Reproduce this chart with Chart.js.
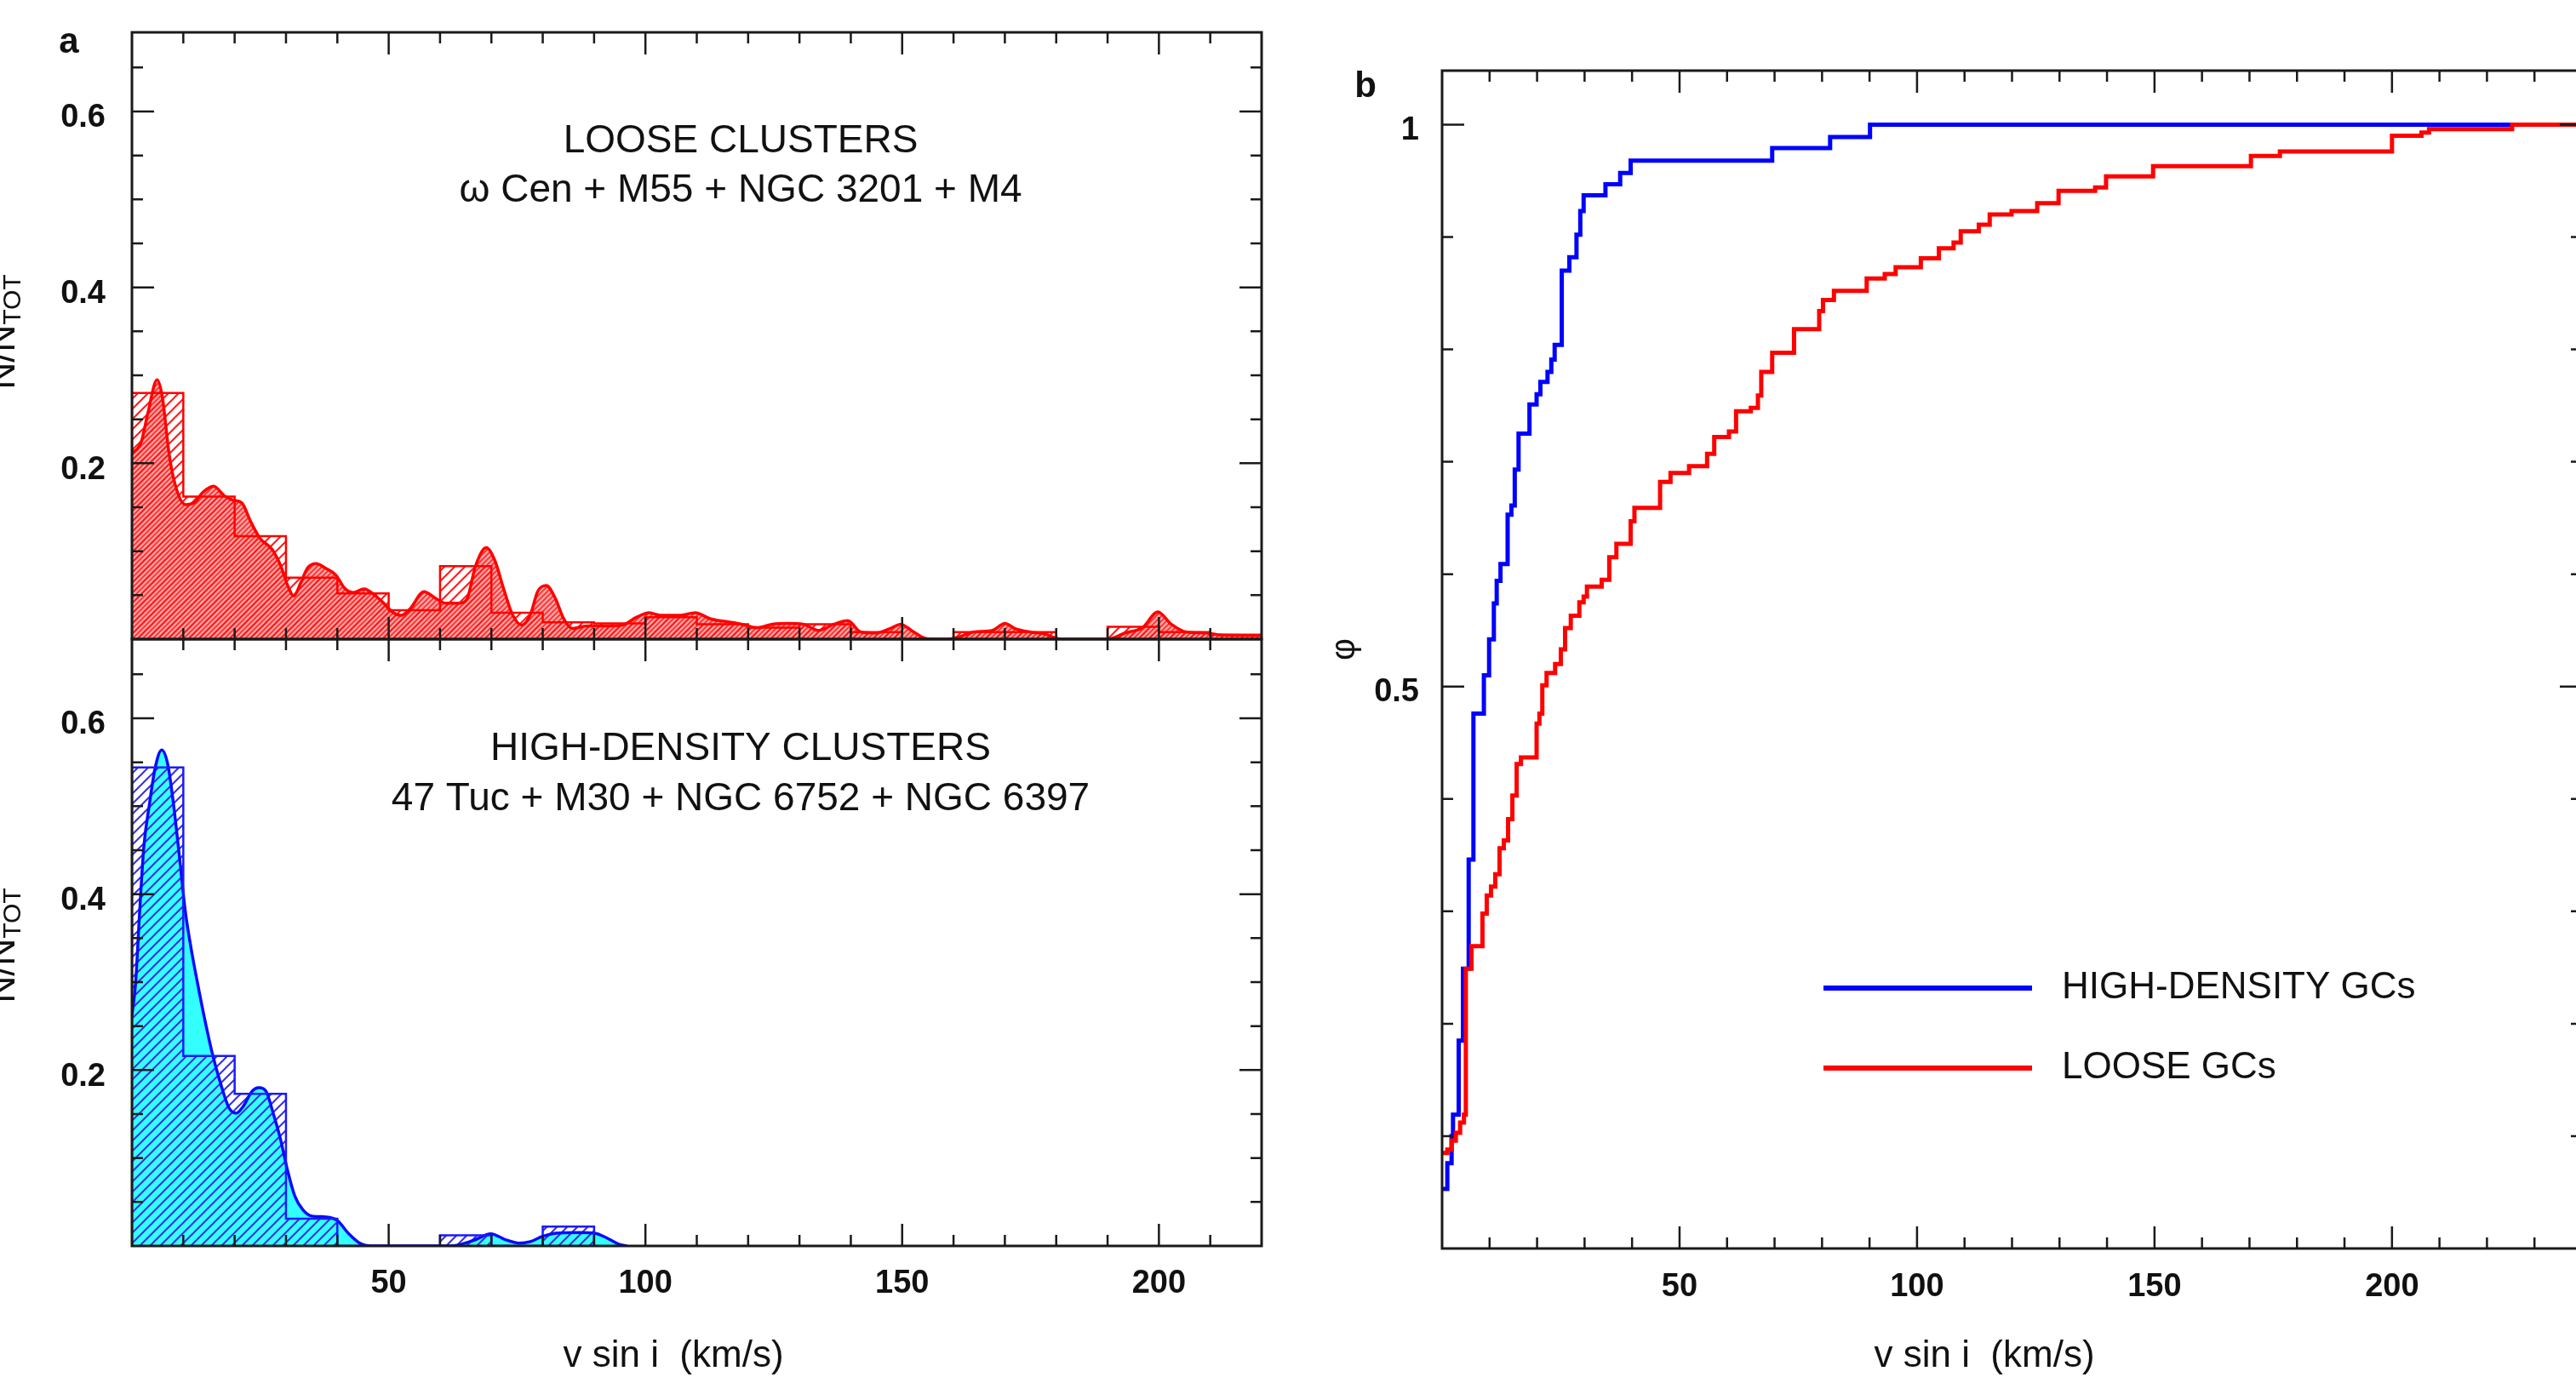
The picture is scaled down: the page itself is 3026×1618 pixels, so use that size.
<!DOCTYPE html>
<html lang="en">
<head>
<meta charset="UTF-8">
<title>v sin i distributions in loose and high-density clusters</title>
<script src="https://cdn.jsdelivr.net/npm/chart.js@4.4.2/dist/chart.umd.min.js"></script>
<style>
    html, body { margin: 0; padding: 0; background: #fff; }
    body { width: 3026px; height: 1618px; overflow: hidden; position: relative; }
    canvas { position: absolute; }
    #looseChart { left: 0; top: 0; }
    #denseChart { left: 0; top: 740px; }
    #cdfChart { left: 1540px; top: 0; }
</style>
</head>
<body>
<canvas id="looseChart" width="1500" height="760"></canvas>
<canvas id="denseChart" width="1500" height="878"></canvas>
<canvas id="cdfChart" width="1510" height="1618"></canvas>

<script>
// --- data ---
// panel a, histograms (bins of 10 km/s)
const looseBins = [0, 10, 20, 30, 40, 50, 60, 70, 80, 90, 100, 110, 120, 130, 140, 150, 160, 170, 180, 190, 200, 210, 220];
const looseHist = [0.280, 0.162, 0.117, 0.070, 0.052, 0.033, 0.083, 0.030, 0.019, 0.018, 0.025, 0.017, 0.013, 0.017, 0.008, 0, 0.008, 0.008, 0, 0.014, 0.008, 0.005];
const denseBins = [0, 10, 20, 30, 40, 50, 60, 70, 80, 90];
const denseHist = [0.544, 0.216, 0.173, 0.031, 0, 0, 0.012, 0, 0.022];

// panel a, smoothed distributions [v sin i, N/Ntot]
const looseKde = [
    [0, 0.211], [1.8, 0.224], [3.1, 0.257], [4.9, 0.295], [5.9, 0.276], [7.3, 0.208], [8.7, 0.170],
    [10.4, 0.153], [12.1, 0.155], [13.8, 0.167], [15.9, 0.174], [18, 0.163], [19.7, 0.158], [21.4, 0.155],
    [23.1, 0.134], [24.9, 0.115], [27.3, 0.102], [29, 0.083], [30.4, 0.060], [31.5, 0.049], [32.8, 0.063],
    [34.2, 0.081], [35.9, 0.086], [37.6, 0.081], [39.7, 0.073], [41.4, 0.058], [43.1, 0.053], [45.2, 0.057],
    [47.3, 0.050], [49, 0.041], [50.7, 0.031], [52.4, 0.027], [54.1, 0.034], [56.9, 0.054], [59, 0.047],
    [61, 0.041], [63.8, 0.041], [65.2, 0.045], [66.9, 0.083], [69, 0.104], [70.7, 0.089], [72.4, 0.057],
    [74.1, 0.028], [75.9, 0.016], [77.6, 0.028], [79, 0.054], [80.7, 0.061], [82.4, 0.047], [84.1, 0.023],
    [85.8, 0.012], [88.6, 0.015], [92, 0.015], [95.5, 0.016], [98.3, 0.025], [100.7, 0.030], [103.1, 0.027],
    [106.7, 0.027], [109.7, 0.030], [112.7, 0.023], [115.7, 0.020], [118.7, 0.017], [121.7, 0.013],
    [124.7, 0.017], [127.7, 0.018], [130.7, 0.017], [133.7, 0.010], [136.7, 0.017], [139.4, 0.021],
    [142, 0.008], [145, 0.007], [148, 0.013], [149.7, 0.017], [151.8, 0.010], [154.4, 0.001], [156, 0],
    [159, 0], [160.8, 0.002], [163.8, 0.008], [167.6, 0.010], [170, 0.018], [172, 0.012], [175, 0.008],
    [177.7, 0.006], [179.6, 0.002], [181, 0], [190, 0], [193.4, 0.007], [196.8, 0.013], [199.8, 0.031],
    [202.4, 0.017], [205.4, 0.008], [209.2, 0.007], [212.2, 0.0045], [220, 0.004]
];
const denseKde = [
    [0, 0.262], [0.7, 0.298], [1.5, 0.380], [2.3, 0.453], [3.4, 0.502], [4.5, 0.543], [5.8, 0.564],
    [7.0, 0.547], [8.1, 0.502], [9.2, 0.445], [10.4, 0.380], [11.5, 0.339], [12.8, 0.298], [14.2, 0.257],
    [15.6, 0.220], [17.3, 0.184], [18.9, 0.157], [20.3, 0.151], [21.7, 0.159], [23.4, 0.176], [24.7, 0.180],
    [26.1, 0.176], [27.5, 0.151], [28.9, 0.122], [30.3, 0.086], [31.7, 0.057], [33.3, 0.041], [35, 0.034],
    [37.8, 0.033], [40, 0.029], [42.2, 0.014], [44.4, 0.003], [46.6, 0], [62, 0], [66.6, 0.0065],
    [69.9, 0.0139], [72.6, 0.0074], [75.4, 0.0032], [77.6, 0.005], [79.9, 0.0107], [82.6, 0.0145],
    [87.1, 0.0152], [90.1, 0.0145], [92.6, 0.0087], [94.8, 0.002], [96.4, 0]
];

// panel b, cumulative distributions [v sin i, phi]
const denseCdf = [
    [0, 0.053], [1.1, 0.076], [2.0, 0.100], [2.3, 0.119], [3.5, 0.185], [4.4, 0.249], [5.6, 0.346],
    [6.6, 0.476], [8.8, 0.510], [9.9, 0.542], [10.9, 0.574], [11.5, 0.594], [12.3, 0.609], [13.8, 0.653],
    [14.6, 0.661], [15.3, 0.693], [16.1, 0.725], [18.4, 0.751], [19.9, 0.760], [20.7, 0.771], [22.2, 0.780],
    [23.0, 0.791], [23.7, 0.804], [25.2, 0.870], [26.8, 0.882], [28.3, 0.902], [29.1, 0.923], [29.8, 0.937],
    [34.4, 0.947], [37.5, 0.957], [39.7, 0.968], [69.5, 0.979], [81.7, 0.989], [90.1, 1.0], [240, 1.0]
];
const looseCdf = [
    [0, 0.085], [1.1, 0.088], [2.0, 0.096], [2.9, 0.103], [3.8, 0.112], [4.6, 0.119], [5.0, 0.249],
    [6.2, 0.269], [8.5, 0.298], [9.4, 0.314], [10.3, 0.322], [11.2, 0.333], [12.1, 0.356], [13.0, 0.363],
    [13.9, 0.382], [14.8, 0.403], [15.7, 0.431], [16.6, 0.437], [19.9, 0.467], [20.5, 0.476], [21.1, 0.501],
    [22.0, 0.512], [23.8, 0.520], [25.0, 0.533], [25.9, 0.552], [27.1, 0.563], [28.9, 0.575], [29.8, 0.580],
    [30.5, 0.589], [33.6, 0.595], [35.2, 0.615], [36.7, 0.627], [39.7, 0.647], [40.5, 0.659], [45.9, 0.682],
    [48.1, 0.690], [52, 0.696], [55.8, 0.707], [57.3, 0.722], [60.4, 0.727], [61.9, 0.745], [65, 0.748],
    [66.5, 0.759], [67.2, 0.780], [69.5, 0.797], [74.1, 0.818], [79.4, 0.834], [80.2, 0.844], [82.5, 0.852],
    [89.4, 0.863], [93.2, 0.867], [95.5, 0.873], [100.8, 0.881], [104.6, 0.890], [107.7, 0.895],
    [109.2, 0.905], [113, 0.911], [115.3, 0.920], [119.9, 0.923], [125.3, 0.930], [129.8, 0.941],
    [137.5, 0.944], [139.8, 0.954], [149.7, 0.963], [170.3, 0.972], [176.4, 0.976], [200, 0.990],
    [206.2, 0.993], [207.8, 0.996], [225.3, 1.0], [240, 1.0]
];

// ticks
const xLabelTicks = [50, 100, 150, 200];
const xMinorA = [10, 20, 30, 40, 50, 60, 70, 80, 90, 100, 110, 120, 130, 140, 150, 160, 170, 180, 190, 200, 210];
const xMinorB = [10, 20, 30, 40, 50, 60, 70, 80, 90, 100, 110, 120, 130, 140, 150, 160, 170, 180, 190, 200, 210, 220, 230];
const yLabelTicksA = [0.2, 0.4, 0.6];
const yMinorA = [0.05, 0.1, 0.15, 0.2, 0.25, 0.3, 0.35, 0.4, 0.45, 0.5, 0.55, 0.6, 0.65];
const yLabelTicksB = [0.5, 1];
const yMinorB = [0.1, 0.2, 0.3, 0.4, 0.5, 0.6, 0.7, 0.8, 0.9, 1];

const FONT = "'Liberation Sans', Arial, Helvetica, sans-serif";
Chart.defaults.font.family = FONT;
Chart.defaults.color = '#111';

// --- helpers ---
function toXY(pairs) {
    return pairs.map(p => ({ x: p[0], y: p[1] }));
}

// outline of a histogram: a point at the left edge of every bin, closed down to zero
function stepPoints(edges, vals) {
    const pts = [{ x: edges[0], y: 0 }];
    vals.forEach((v, i) => pts.push({ x: edges[i], y: v }));
    const end = edges[edges.length - 1];
    pts.push({ x: end, y: vals[vals.length - 1] });
    pts.push({ x: end, y: 0 });
    return pts;
}

function hatch(bg, color, gap, lw) {
    const c = document.createElement('canvas');
    c.width = gap; c.height = gap;
    const g = c.getContext('2d');
    if (bg) { g.fillStyle = bg; g.fillRect(0, 0, gap, gap); }
    g.strokeStyle = color;
    g.lineWidth = lw;
    g.beginPath();
    g.moveTo(-2, gap + 2); g.lineTo(gap + 2, -2);
    g.moveTo(-2, 2); g.lineTo(2, -2);
    g.moveTo(gap - 2, gap + 2); g.lineTo(gap + 2, gap - 2);
    g.stroke();
    return g.createPattern(c, 'repeat');
}

// box with inward ticks on every side
const frameTicks = {
    id: 'frameTicks',
    afterDatasetsDraw(chart, args, o) {
        const { ctx, chartArea: a } = chart;
        const x = chart.scales.x, y = chart.scales.y;
        ctx.save();
        ctx.strokeStyle = '#1a1a1a';
        ctx.lineWidth = 2.5;
        ctx.beginPath();
        o.xMinor.forEach(v => {
            const px = x.getPixelForValue(v);
            const len = o.xMajor.includes(v) ? 26 : 13;
            ctx.moveTo(px, a.top); ctx.lineTo(px, a.top + len);
            ctx.moveTo(px, a.bottom); ctx.lineTo(px, a.bottom - len);
        });
        o.yMinor.forEach(v => {
            const py = y.getPixelForValue(v);
            const len = o.yMajor.includes(v) ? 26 : 13;
            ctx.moveTo(a.left, py); ctx.lineTo(a.left + len, py);
            ctx.moveTo(a.right, py); ctx.lineTo(a.right - len, py);
        });
        ctx.stroke();
        ctx.lineWidth = 3;
        ctx.strokeRect(a.left, a.top, a.right - a.left, a.bottom - a.top);
        ctx.restore();
    }
};

// free text: panel letters, annotations, axis titles
const panelText = {
    id: 'panelText',
    afterDraw(chart, args, o) {
        const ctx = chart.ctx;
        (o.items || []).forEach(it => {
            ctx.save();
            ctx.translate(it.x, it.y);
            if (it.rotate) ctx.rotate(it.rotate);
            ctx.fillStyle = '#111';
            const f = `${it.bold ? 'bold ' : ''}${it.size}px ${FONT}`;
            if (it.sub) {
                ctx.font = f;
                const w1 = ctx.measureText(it.text).width;
                ctx.font = `${it.subSize}px ${FONT}`;
                const w2 = ctx.measureText(it.sub).width;
                const x0 = -(w1 + w2) / 2;
                ctx.textAlign = 'left';
                ctx.textBaseline = 'alphabetic';
                ctx.font = f;
                ctx.fillText(it.text, x0, 0);
                ctx.font = `${it.subSize}px ${FONT}`;
                ctx.fillText(it.sub, x0 + w1, it.subShift);
            } else {
                ctx.font = f;
                ctx.textAlign = it.align || 'center';
                ctx.textBaseline = 'middle';
                ctx.fillText(it.text, 0, 0);
            }
            ctx.restore();
        });
    }
};

// legend drawn inside panel b from the dataset labels/colours
const lineLegend = {
    id: 'lineLegend',
    afterDraw(chart, args, o) {
        const ctx = chart.ctx;
        chart.data.datasets.forEach((ds, i) => {
            const y = o.y + i * o.gap;
            ctx.save();
            ctx.strokeStyle = ds.borderColor;
            ctx.lineWidth = o.lineWidth;
            ctx.beginPath();
            ctx.moveTo(o.x, y);
            ctx.lineTo(o.x + o.len, y);
            ctx.stroke();
            ctx.fillStyle = '#111';
            ctx.font = `${o.size}px ${FONT}`;
            ctx.textAlign = 'left';
            ctx.textBaseline = 'middle';
            ctx.fillText(ds.label, o.x + o.len + o.textGap, y);
            ctx.restore();
        });
    }
};

const tickFont = { size: 38, weight: 'bold' };

function fixY(width) {
    return s => { s.width = width; s.paddingTop = 0; s.paddingBottom = 0; };
}
function fixX(height) {
    return s => { s.height = height; s.paddingLeft = 0; s.paddingRight = 0; };
}

function yAxisA() {
    return {
        min: 0, max: 0.69,
        afterFit: fixY(155),
        afterBuildTicks: s => { s.ticks = yLabelTicksA.map(v => ({ value: v })); },
        grid: { display: false, drawTicks: false },
        border: { display: false },
        ticks: { padding: 31, labelOffset: 8, autoSkip: false, font: tickFont, callback: v => v.toFixed(1) }
    };
}

const common = {
    responsive: false,
    animation: false,
    devicePixelRatio: 1,
    events: []
};

// --- panel a, top: loose clusters ---
new Chart(document.getElementById('looseChart'), {
    type: 'line',
    data: {
        datasets: [
            {
                label: 'histogram',
                data: stepPoints(looseBins, looseHist),
                stepped: true,
                borderColor: '#ff0000',
                borderWidth: 2.5,
                backgroundColor: hatch(null, '#ff1a1a', 12, 2),
                fill: 'origin',
                pointRadius: 0,
                order: 0
            },
            {
                label: 'smoothed',
                data: toXY(looseKde),
                cubicInterpolationMode: 'monotone',
                borderColor: '#ff0000',
                borderWidth: 3.5,
                backgroundColor: hatch('#ffa3a3', '#ff2a2a', 6, 1.6),
                fill: 'origin',
                pointRadius: 0,
                order: 1
            }
        ]
    },
    options: {
        ...common,
        layout: { padding: { top: 38, right: 18, bottom: 9, left: 0 } },
        scales: {
            x: { type: 'linear', min: 0, max: 220, display: false, ticks: { display: false }, afterFit: fixX(0) },
            y: yAxisA()
        },
        plugins: {
            legend: { display: false },
            tooltip: { enabled: false },
            filler: { drawTime: 'beforeDatasetsDraw' },
            frameTicks: { xMinor: xMinorA, xMajor: xLabelTicks, yMinor: yMinorA, yMajor: yLabelTicksA },
            panelText: {
                items: [
                    { text: 'a', x: 81, y: 50, size: 42, bold: true },
                    { text: 'LOOSE CLUSTERS', x: 870, y: 166, size: 46 },
                    { text: 'ω Cen + M55 + NGC 3201 + M4', x: 870, y: 224, size: 46 },
                    { text: 'N/N', sub: 'TOT', x: 17, y: 390, size: 44, subSize: 30, subShift: 7, rotate: -Math.PI / 2 }
                ]
            }
        }
    },
    plugins: [frameTicks, panelText]
});

// --- panel a, bottom: high-density clusters ---
new Chart(document.getElementById('denseChart'), {
    type: 'line',
    data: {
        datasets: [
            {
                label: 'histogram',
                data: stepPoints(denseBins, denseHist),
                stepped: true,
                borderColor: '#1a1aff',
                borderWidth: 2.5,
                backgroundColor: hatch(null, '#3a2fd8', 12, 2),
                fill: 'origin',
                pointRadius: 0,
                order: 0
            },
            {
                label: 'smoothed',
                data: toXY(denseKde),
                cubicInterpolationMode: 'monotone',
                borderColor: '#0a0aff',
                borderWidth: 3.5,
                backgroundColor: '#33ffff',
                fill: 'origin',
                pointRadius: 0,
                order: 1
            }
        ]
    },
    options: {
        ...common,
        layout: { padding: { top: 11, right: 18, bottom: 0, left: 0 } },
        scales: {
            x: {
                type: 'linear', min: 0, max: 220,
                afterFit: fixX(154),
                afterBuildTicks: s => { s.ticks = xLabelTicks.map(v => ({ value: v })); },
                grid: { display: false, drawTicks: false },
                border: { display: false },
                ticks: { padding: 22, autoSkip: false, maxRotation: 0, font: tickFont }
            },
            y: yAxisA()
        },
        plugins: {
            legend: { display: false },
            tooltip: { enabled: false },
            filler: { drawTime: 'beforeDatasetsDraw' },
            frameTicks: { xMinor: xMinorA, xMajor: xLabelTicks, yMinor: yMinorA, yMajor: yLabelTicksA },
            panelText: {
                items: [
                    { text: 'HIGH-DENSITY CLUSTERS', x: 870, y: 140, size: 46 },
                    { text: '47 Tuc + M30 + NGC 6752 + NGC 6397', x: 870, y: 199, size: 46 },
                    { text: 'v sin i  (km/s)', x: 791, y: 854, size: 44 },
                    { text: 'N/N', sub: 'TOT', x: 17, y: 371, size: 44, subSize: 30, subShift: 7, rotate: -Math.PI / 2 }
                ]
            }
        }
    },
    plugins: [frameTicks, panelText]
});

// --- panel b: cumulative distributions ---
new Chart(document.getElementById('cdfChart'), {
    type: 'line',
    data: {
        datasets: [
            {
                label: 'HIGH-DENSITY GCs',
                data: toXY(denseCdf),
                stepped: true,
                borderColor: '#0000ff',
                borderWidth: 5,
                fill: false,
                pointRadius: 0,
                order: 1
            },
            {
                label: 'LOOSE GCs',
                data: toXY(looseCdf),
                stepped: true,
                borderColor: '#ff0000',
                borderWidth: 5,
                fill: false,
                pointRadius: 0,
                order: 0
            }
        ]
    },
    options: {
        ...common,
        layout: { padding: { top: 83, right: 17, bottom: 0, left: 0 } },
        scales: {
            x: {
                type: 'linear', min: 0, max: 240,
                afterFit: fixX(151),
                afterBuildTicks: s => { s.ticks = xLabelTicks.map(v => ({ value: v })); },
                grid: { display: false, drawTicks: false },
                border: { display: false },
                ticks: { padding: 23, autoSkip: false, maxRotation: 0, font: tickFont }
            },
            y: {
                min: 0, max: 1.048,
                afterFit: fixY(154),
                afterBuildTicks: s => { s.ticks = yLabelTicksB.map(v => ({ value: v })); },
                grid: { display: false, drawTicks: false },
                border: { display: false },
                ticks: { padding: 27, labelOffset: 7, autoSkip: false, font: tickFont, callback: v => (v === 1 ? '1' : v.toFixed(1)) }
            }
        },
        plugins: {
            legend: { display: false },
            tooltip: { enabled: false },
            frameTicks: { xMinor: xMinorB, xMajor: xLabelTicks, yMinor: yMinorB, yMajor: yLabelTicksB },
            panelText: {
                items: [
                    { text: 'b', x: 64, y: 102, size: 42, bold: true },
                    { text: 'φ', x: 40, y: 763, size: 40, rotate: -Math.PI / 2 },
                    { text: 'v sin i  (km/s)', x: 791, y: 1594, size: 44 }
                ]
            },
            lineLegend: { x: 602, y: 1161, gap: 94, len: 245, textGap: 35, lineWidth: 6, size: 44 }
        }
    },
    plugins: [frameTicks, panelText, lineLegend]
});
</script>
</body>
</html>
